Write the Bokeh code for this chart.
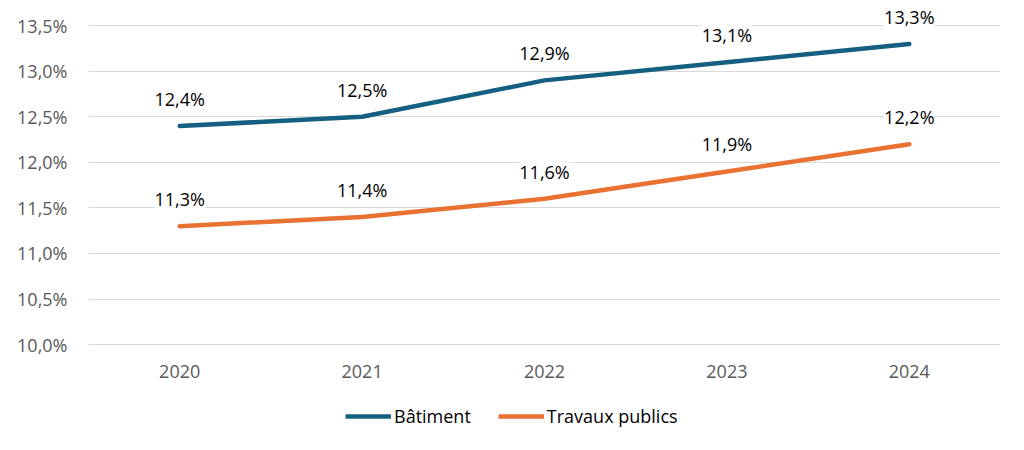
from bokeh.plotting import figure
from bokeh.layouts import column
from bokeh.models import ColumnDataSource, Range1d, FixedTicker, Legend, LegendItem
from bokeh.core.properties import value
from bokeh.resources import INLINE
from bokeh.embed import file_html

years = ["2020", "2021", "2022", "2023", "2024"]
batiment = [12.4, 12.5, 12.9, 13.1, 13.3]
travaux_publics = [11.3, 11.4, 11.6, 11.9, 12.2]
y_ticks = [10.0, 10.5, 11.0, 11.5, 12.0, 12.5, 13.0, 13.5]

series_names = ["Bâtiment", "Travaux publics"]
colors = {
    'batiment': '#156082',
    'travaux': '#e97132',
}

FONT = "Open Sans"
LINE_W = 4.5


def fmt(v):
    return "{:.1f}%".format(v).replace(".", ",")


def make_sources():
    src_b = ColumnDataSource(data={'x': years, 'y': batiment,
                                   'lbl': [fmt(v) for v in batiment]})
    src_t = ColumnDataSource(data={'x': years, 'y': travaux_publics,
                                   'lbl': [fmt(v) for v in travaux_publics]})
    return src_b, src_t


def make_plot(src_b, src_t):
    p = figure(x_range=years,
               y_range=Range1d(9.99, 13.7),
               width=1008, height=392,
               output_backend="svg",
               toolbar_location=None,
               min_border_left=88, min_border_right=8,
               min_border_top=7, min_border_bottom=47)

    p.outline_line_color = None
    p.xgrid.grid_line_color = None
    p.ygrid.grid_line_color = "#d9d9d9"
    p.ygrid.grid_line_width = 1

    p.yaxis.ticker = FixedTicker(ticks=y_ticks)
    p.yaxis.major_label_overrides = {t: fmt(t) for t in y_ticks}
    for ax in (p.xaxis, p.yaxis):
        ax.axis_line_color = None
        ax.major_tick_line_color = None
        ax.minor_tick_line_color = None
        ax.major_label_text_font = FONT
        ax.major_label_text_font_size = "18px"
        ax.major_label_text_color = "#595959"
    p.yaxis.major_label_standoff = 15
    p.xaxis.major_label_standoff = 13

    p.line(x='x', y='y', source=src_b, line_width=LINE_W,
           line_color=colors['batiment'], line_cap="round", line_join="round")
    p.line(x='x', y='y', source=src_t, line_width=LINE_W,
           line_color=colors['travaux'], line_cap="round", line_join="round")

    for src in (src_b, src_t):
        p.text(x='x', y='y', text='lbl', source=src,
               text_font=value(FONT), text_font_size="18px",
               text_color="#000000", text_align="center",
               text_baseline="middle", y_offset=-27,
               background_fill_color="white")

    return p


def make_legend(src_b, src_t):
    # strip under the chart that only shows the legend;
    # the series lie far outside its y range so only the swatches show
    lp = figure(x_range=years, y_range=Range1d(0, 1),
                width=1008, height=42,
                output_backend="svg",
                toolbar_location=None,
                x_axis_location=None, y_axis_location=None,
                min_border=0)
    lp.outline_line_color = None
    lp.grid.visible = False

    rb = lp.line(x='x', y='y', source=src_b, line_width=LINE_W,
                 line_color=colors['batiment'])
    rt = lp.line(x='x', y='y', source=src_t, line_width=LINE_W,
                 line_color=colors['travaux'])

    legend = Legend(items=[
        LegendItem(label=series_names[0], renderers=[rb]),
        LegendItem(label=series_names[1], renderers=[rt]),
    ], orientation="horizontal", location=(257, 6),
        label_text_font=FONT, label_text_font_size="18px",
        label_text_color="#000000", glyph_width=46, glyph_height=20,
        label_standoff=3, spacing=27, padding=0, margin=0,
        border_line_color=None, background_fill_alpha=0)
    lp.add_layout(legend, 'center')
    return lp


if __name__ == '__main__':
    src_b, src_t = make_sources()
    layout = column(make_plot(src_b, src_t), make_legend(src_b, src_t))
    open("out.html", "w").write(file_html(layout, INLINE))
